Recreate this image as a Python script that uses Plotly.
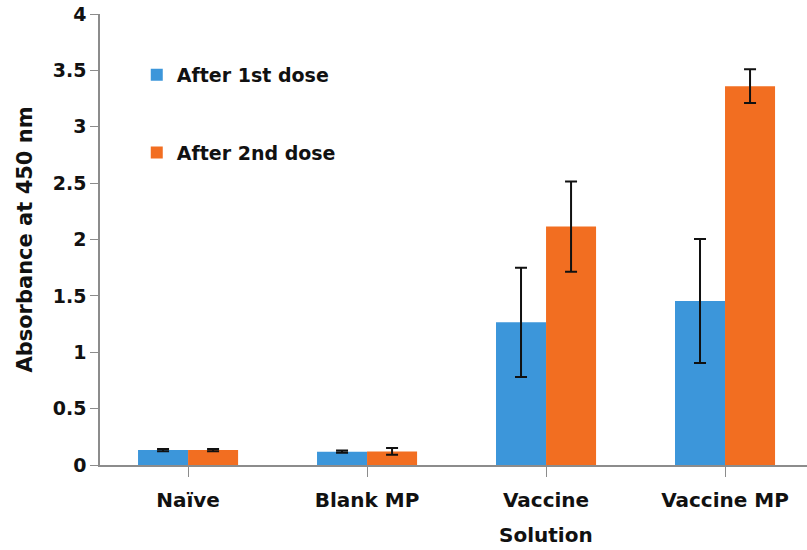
import plotly.graph_objects as go

categories = ["Naïve", "Blank MP", "Vaccine<br>Solution", "Vaccine MP"]
dose1 = [0.133, 0.118, 1.265, 1.455]
dose1_err = [0.01, 0.01, 0.485, 0.55]
dose2 = [0.132, 0.12, 2.115, 3.36]
dose2_err = [0.01, 0.03, 0.40, 0.15]
yticks = [0, 0.5, 1, 1.5, 2, 2.5, 3, 3.5, 4]
ytick_text = ["0", "0.5", "1", "1.5", "2", "2.5", "3", "3.5", "4"]

FONT = "DejaVu Sans"
x = list(range(len(categories)))
first_lines = [c.split("<br>")[0] for c in categories]
second_lines = [c.split("<br>")[1] if "<br>" in c else "" for c in categories]

fig = go.Figure()
fig.add_trace(go.Bar(
    x=x, y=dose1, name="After 1st dose", legendgroup="a",
    marker=dict(color="#3C96DA", line=dict(width=0)),
    error_y=dict(type="data", array=dose1_err, color="#111111", thickness=2, width=6),
))
fig.add_trace(go.Bar(
    x=x, y=dose2, name="After 2nd dose", legendgroup="b",
    marker=dict(color="#F26E21", line=dict(width=0)),
    error_y=dict(type="data", array=dose2_err, color="#111111", thickness=2, width=6),
))

for xi, t in zip(x, second_lines):
    if t:
        fig.add_annotation(x=xi, xref="x", y=0, yref="paper", yshift=-70,
                           text=t, showarrow=False, yanchor="middle",
                           font=dict(family=FONT, size=20, color="#111111", weight="bold"))

fig.update_layout(
    width=807, height=550,
    margin=dict(l=100, r=0, t=14, b=85),
    paper_bgcolor="white", plot_bgcolor="white",
    barmode="group", bargap=0.441, bargroupgap=0,
    font=dict(family=FONT, size=19, color="#1a1a1a", weight="bold"),
    showlegend=True,
    legend=dict(x=0.052, y=0.907, xanchor="left", yanchor="top",
                tracegroupgap=50, bgcolor="rgba(0,0,0,0)",
                font=dict(family=FONT, size=19, color="#111111", weight="bold")),
    xaxis=dict(
        tickmode="array", tickvals=x, ticktext=first_lines,
        range=[-0.492, 3.458], automargin=False,
        showline=True, linecolor="#8c8c8c", linewidth=1.5,
        ticks="outside", tickson="boundaries", ticklen=10, tickcolor="#8c8c8c",
        ticklabelstandoff=6,
        showgrid=False, zeroline=False,
        tickfont=dict(family=FONT, size=20, color="#111111", weight="bold"),
    ),
    yaxis=dict(
        range=[0, 4], tickmode="array", tickvals=yticks, ticktext=ytick_text,
        automargin=False,
        showline=True, linecolor="#8c8c8c", linewidth=1.5,
        ticks="outside", ticklen=8, tickcolor="#8c8c8c",
        showgrid=False, zeroline=False,
        tickfont=dict(family=FONT, size=19, color="#111111", weight="bold"),
        title=dict(text="Absorbance at 450 nm", standoff=14,
                   font=dict(family=FONT, size=21, color="#111111", weight="bold")),
    ),
)

fig.write_html("out.html", config={"displayModeBar": False},
               post_script="document.body.style.margin='0';")
